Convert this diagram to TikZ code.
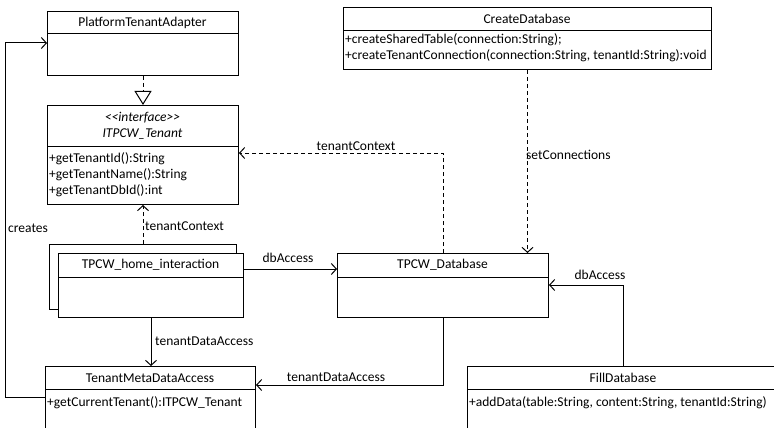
\documentclass[tikz,border=0pt]{standalone}
\usepackage{fontspec}
\setmainfont{Carlito}
\usetikzlibrary{arrows.meta}
\tikzset{
	classbox/.style = {draw=black, fill=white, line width=1pt, inner sep=0pt, anchor=north west},
	classtitle/.style = {font=\fontsize{13.5}{16}\selectfont, inner sep=0pt, align=center},
	members/.style = {font=\fontsize{13.5}{16}\selectfont, inner sep=0pt, align=left, anchor=north west},
	lbl/.style = {font=\fontsize{13.5}{16}\selectfont, inner sep=0pt},
	assoc/.style = {draw=black, line width=1pt, -{Straight Barb[length=5pt,width=11pt]}},
	dep/.style = {assoc, dash pattern=on 4pt off 3pt},
	realize/.style = {draw=black, line width=1pt, dash pattern=on 4pt off 3pt, -{Triangle[open, length=14pt, width=17pt]}}
}

\begin{document}
\begin{tikzpicture}[x=1pt, y=-1pt]
\clip (0,0) rectangle (774,428);
\fill[white] (0,0) rectangle (774,428);

% classes
\node [classbox, minimum width=191pt, minimum height=64pt] (pta) at (47,11) {};
\draw [line width=1pt] ([yshift=-23pt]pta.north west) -- ([yshift=-23pt]pta.north east);
\node [classtitle] (ptaT) at (142.5,22.5) {PlatformTenantAdapter};

\node [classbox, minimum width=191pt, minimum height=99pt] (itf) at (47,105) {};
\draw [line width=1pt] ([yshift=-41pt]itf.north west) -- ([yshift=-41pt]itf.north east);
\node [classtitle] (itfT) at (142.5,125.5) {\textit{{<}{<}interface{>}{>}}\\\textit{ITPCW\_Tenant}};
\node [members] (itfM) at (49,152) {+getTenantId():String\\+getTenantName():String\\+getTenantDbId():int};

\node [classbox, minimum width=368pt, minimum height=62pt] (cdb) at (343,7) {};
\draw [line width=1pt] ([yshift=-24pt]cdb.north west) -- ([yshift=-24pt]cdb.north east);
\node [classtitle] (cdbT) at (527,19) {CreateDatabase};
\node [members] (cdbM) at (345,33) {+createSharedTable(connection:String);\\+createTenantConnection(connection:String, tenantId:String):void};

\node [classbox, minimum width=187pt, minimum height=65pt] (homeB) at (49,244) {};
\node [classbox, minimum width=185pt, minimum height=64pt] (home) at (58,253) {};
\draw [line width=1pt] ([yshift=-24pt]home.north west) -- ([yshift=-24pt]home.north east);
\node [classtitle] (homeT) at (150.5,265) {TPCW\_home\_interaction};

\node [classbox, minimum width=211pt, minimum height=64pt] (db) at (337,253) {};
\draw [line width=1pt] ([yshift=-24pt]db.north west) -- ([yshift=-24pt]db.north east);
\node [classtitle] (dbT) at (442.5,265) {TPCW\_Database};

\node [classbox, minimum width=210pt, minimum height=80pt] (tmda) at (45,366) {};
\draw [line width=1pt] ([yshift=-23pt]tmda.north west) -- ([yshift=-23pt]tmda.north east);
\node [classtitle] (tmdaT) at (150,378) {TenantMetaDataAccess};
\node [members] (tmdaM) at (47,396) {+getCurrentTenant():ITPCW\_Tenant};

\node [classbox, minimum width=320pt, minimum height=80pt] (fill) at (467,366) {};
\draw [line width=1pt] ([yshift=-23pt]fill.north west) -- ([yshift=-23pt]fill.north east);
\node [classtitle] (fillT) at (623,378) {FillDatabase};
\node [members] (fillM) at (469,396) {+addData(table:String, content:String, tenantId:String)};

% connectors
\draw [realize] (pta.south) -- (itf.north);
\draw [dep] (homeB.north) -- (itf.south);
\node [lbl, anchor=west] (ctxA) at (145,226) {tenantContext};

\draw [assoc] ([yshift=-16pt]home.north east) -- ([yshift=-16pt]db.north west);
\node [lbl] (dbaA) at (288,258) {dbAccess};

\coordinate (crCorner) at (5,43);
\draw [assoc] ([yshift=-31pt]tmda.north west) -| (crCorner) -- ([yshift=-32pt]pta.north west);
\node [lbl, anchor=west] (crA) at (8,228) {creates};

\draw [dep] ([xshift=106pt]db.north west) |- ([yshift=-48pt]itf.north east);
\node [lbl] (ctxB) at (356,146) {tenantContext};

\draw [dep] (cdb.south) -- (cdb.south |- db.north);
\node [lbl, anchor=west] (setA) at (526,155) {setConnections};

\draw [assoc] ([xshift=93pt]home.south west) -- ([xshift=93pt]home.south west |- tmda.north);
\node [lbl, anchor=west] (tdaA) at (155,341) {tenantDataAccess};

\draw [assoc] (db.south) |- ([yshift=-19pt]tmda.north east);
\node [lbl] (tdaB) at (336,377) {tenantDataAccess};

\draw [assoc] ([xshift=156pt]fill.north west) |- ([yshift=-32pt]db.north east);
\node [lbl] (dbaB) at (600,275) {dbAccess};
\end{tikzpicture}
\end{document}
